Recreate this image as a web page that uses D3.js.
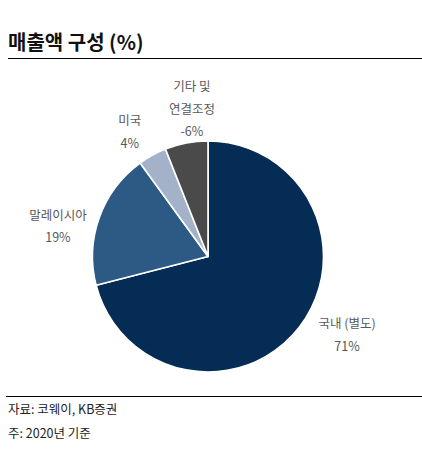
<!DOCTYPE html>
<html><head><meta charset="utf-8">
<script src="https://cdn.jsdelivr.net/npm/d3@7"></script>
<style>
html,body{margin:0;padding:0;background:#fff;}
svg{display:block;font-family:"Noto Sans CJK KR","Noto Sans",sans-serif;}
</style></head>
<body>
<svg id="c" width="422" height="450"></svg>
<script>
const categories = ["국내 (별도)", "말레이시아", "미국", "기타 및\n연결조정"];
const values = [71, 19, 4, 6];
const valueLabels = ["71%", "19%", "4%", "-6%"];
const colors = ["#042c55", "#2c5a85", "#a3b2c9", "#4a4a4a"];
// label layout nudges (px) relative to outer-arc centroid
const labelNudge = [[20.5, -13.5], [-9, 21], [-6, 7], [12, 0]];

const svg = d3.select("#c");
svg.append("text").attr("x", 8).attr("y", 50)
  .attr("font-size", 20).attr("font-weight", "bold").attr("fill", "#111")
  .text("매출액 구성 (%)");
svg.append("line").attr("x1", 8).attr("x2", 422).attr("y1", 58.5).attr("y2", 58.5)
  .attr("stroke", "#000").attr("stroke-width", 1.2);

const cx = 208, cy = 256.5, r = 115.5;
const g = svg.append("g").attr("transform", `translate(${cx},${cy})`);
const pie = d3.pie().sort(null).value(d => d);
const arcs = pie(values);
const arc = d3.arc().innerRadius(0).outerRadius(r);
g.selectAll("path").data(arcs).join("path")
  .attr("d", arc).attr("fill", (d, i) => colors[i])
  .attr("stroke", "#fff").attr("stroke-width", 1.6).attr("stroke-linejoin", "round");

const labelArc = d3.arc().innerRadius(150).outerRadius(150);
arcs.forEach((d, i) => {
  const [lx, ly] = labelArc.centroid(d);
  const x = lx + labelNudge[i][0], y = ly + labelNudge[i][1];
  const lines = categories[i].split("\n").concat([valueLabels[i]]);
  const lh = 22.5;
  const t = g.append("text").attr("text-anchor", "middle").attr("font-size", 12.5).attr("fill", "#595959");
  lines.forEach((s, k) => {
    t.append("tspan").attr("x", x).attr("y", y + (k - (lines.length - 1) / 2) * lh + 4.5).text(s);
  });
});

svg.append("line").attr("x1", 6).attr("x2", 422).attr("y1", 396.5).attr("y2", 396.5)
  .attr("stroke", "#000").attr("stroke-width", 1.2);
svg.append("text").attr("x", 8).attr("y", 414).attr("font-size", 12.5).attr("fill", "#222").text("자료: 코웨이, KB증권");
svg.append("text").attr("x", 8).attr("y", 438).attr("font-size", 12.5).attr("fill", "#222").text("주: 2020년 기준");
</script>
</body></html>
